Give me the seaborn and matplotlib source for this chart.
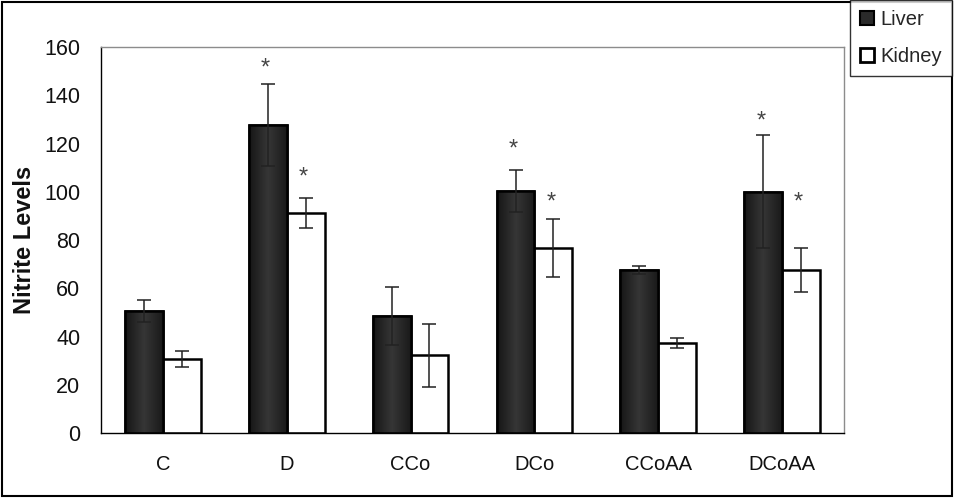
import numpy as np
import pandas as pd
import matplotlib
matplotlib.use("Agg")
import matplotlib.pyplot as plt
import seaborn as sns
from matplotlib.patches import Patch, Rectangle
from matplotlib.colors import LinearSegmentedColormap

categories = ["C", "D", "CCo", "DCo", "CCoAA", "DCoAA"]
liver = [50.5, 127.5, 48.5, 100.5, 67.5, 100.0]
liver_err = [4.5, 17.0, 12.0, 8.7, 1.8, 23.5]
kidney = [30.8, 91.2, 32.2, 76.5, 37.2, 67.5]
kidney_err = [3.3, 6.3, 13.0, 12.0, 2.0, 9.0]
liver_star = [None, 151.0, None, 117.5, None, 129.0]
kidney_star = [None, 106.0, None, 95.5, None, 95.5]
yticks = [0, 20, 40, 60, 80, 100, 120, 140, 160]

df = pd.DataFrame({
    "cat": categories * 2,
    "tissue": ["Liver"] * 6 + ["Kidney"] * 6,
    "val": liver + kidney,
})

sns.set_style("white")
plt.rcParams["font.family"] = ["Liberation Sans", "DejaVu Sans"]

fig = plt.figure(figsize=(9.56, 4.98), dpi=100)
ax = fig.add_axes([101 / 956, 1 - 433 / 498, (844 - 101) / 956, (433 - 47) / 498])

sns.barplot(data=df, x="cat", y="val", hue="tissue", order=categories,
            hue_order=["Liver", "Kidney"],
            palette={"Liver": "#252525", "Kidney": "white"},
            width=0.61, gap=0, errorbar=None, edgecolor="black",
            linewidth=1.8, saturation=1, legend=False, ax=ax)

ax.set_xlim(-0.5, 5.5)
ax.set_ylim(0, 160)

# gradient fill for liver bars
cmap = LinearSegmentedColormap.from_list("g", ["#161616", "#363636", "#1a1a1a"])
grad = np.linspace(0, 1, 64).reshape(1, -1)
for p in ax.containers[0]:
    x0, y0 = p.get_x(), p.get_y()
    w, h = p.get_width(), p.get_height()
    im = ax.imshow(grad, cmap=cmap, aspect="auto",
                   extent=(x0, x0 + w, y0, y0 + h), zorder=p.get_zorder() + 0.1)
    im.set_clip_path(p)
    edge = Rectangle((x0, y0), w, h, fill=False, edgecolor="black",
                     linewidth=1.8, zorder=p.get_zorder() + 0.2)
    ax.add_patch(edge)
ax.set_xlim(-0.5, 5.5)
ax.set_ylim(0, 160)

for cont, vals, errs, stars in [(ax.containers[0], liver, liver_err, liver_star),
                                (ax.containers[1], kidney, kidney_err, kidney_star)]:
    for p, v, e, s in zip(cont, vals, errs, stars):
        cx = p.get_x() + p.get_width() / 2
        ax.errorbar(cx, v, yerr=e, color="#222222", elinewidth=1.1,
                    capsize=4.8, capthick=1.1, zorder=5)
        if s is not None:
            ax.text(cx - 0.02, s, "*", ha="center", va="center",
                    fontsize=17, color="#444444", zorder=6)

ax.set_yticks(yticks)
ax.set_yticklabels([str(t) for t in yticks], fontsize=15.5, color="#111111")
ax.set_xticks(range(len(categories)))
ax.set_xticklabels(categories, fontsize=14.5, color="#111111")
ax.set_xticks(np.arange(-0.5, 6, 1), minor=True)
ax.tick_params(axis="x", which="major", length=0, pad=16)
ax.tick_params(axis="x", which="minor", length=5, width=1, direction="out", color="black")
ax.tick_params(axis="y", which="major", length=6, width=1, direction="out", color="black", pad=9)
ax.set_xlabel("")
ax.set_ylabel("Nitrite Levels", fontsize=17, fontweight="bold", labelpad=6, color="#111111")

for side in ["top", "right"]:
    ax.spines[side].set_color("#8c8c8c")
    ax.spines[side].set_linewidth(1)
for side in ["left", "bottom"]:
    ax.spines[side].set_color("black")
    ax.spines[side].set_linewidth(1)

handles = [Patch(facecolor="#2a2a2a", edgecolor="black", linewidth=1.5, label="Liver"),
           Patch(facecolor="white", edgecolor="black", linewidth=2, label="Kidney")]
leg = fig.legend(handles=handles, loc="upper right", bbox_to_anchor=(952 / 956, 1.0),
                 frameon=True, fancybox=False, fontsize=14.5, handlelength=0.7,
                 handleheight=0.7, handletextpad=0.3, labelspacing=0.9,
                 borderpad=0.5, borderaxespad=0)
leg.get_frame().set_edgecolor("black")
leg.get_frame().set_linewidth(1)

fig.add_artist(Rectangle((2 / 956, 2 / 498), 950 / 956, 494 / 498,
                         transform=fig.transFigure, fill=False,
                         edgecolor="black", linewidth=1.5))

fig.savefig("out.png", dpi=100)
